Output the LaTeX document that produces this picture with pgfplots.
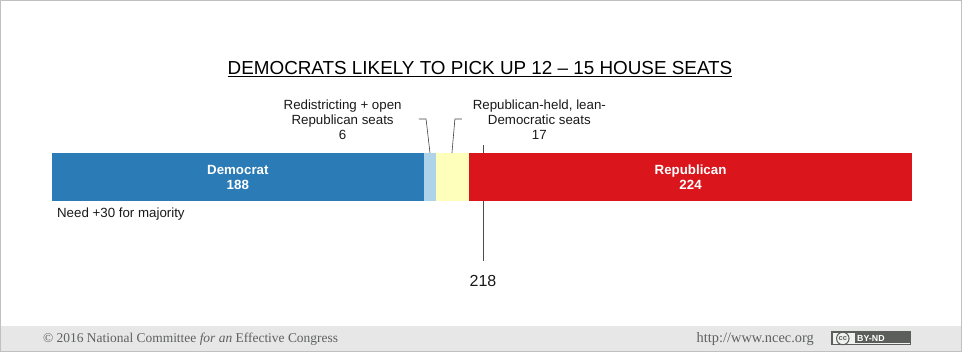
\documentclass[border=0pt]{standalone}
\usepackage{pgfplots}
\usetikzlibrary{calc}
\pgfplotsset{compat=1.18}
\usepackage{fontspec}
\setmainfont{Liberation Sans}
\newfontfamily\foot{Liberation Serif}
\definecolor{dem}{HTML}{2B7BB7}
\definecolor{open}{HTML}{AFD4E9}
\definecolor{lean}{HTML}{FFFFBC}
\definecolor{rep}{HTML}{DA161C}
\definecolor{band}{HTML}{E6E7E6}
\definecolor{frame}{HTML}{BFC1BF}
\definecolor{foottxt}{HTML}{5F6160}
\definecolor{ccg}{HTML}{5C5E5C}
\newcommand{\ft}[1]{\fontsize{#1}{#1}\selectfont}
\begin{document}
\begin{tikzpicture}
\begin{axis}[
  scale only axis, width=962pt, height=352pt,
  xmin=-26.3, xmax=460.3, ymin=0, ymax=352,
  hide axis, clip=false,
  xbar stacked, reverse stacked plots=false, bar width=48pt, bar shift=0pt,
]
\fill[band] (axis cs:-26.3,0) rectangle (axis cs:460.3,26);
\draw[frame,line width=1pt] ($(axis cs:-26.3,0)+(0.5pt,0.5pt)$) rectangle ($(axis cs:460.3,352)+(-0.5pt,-0.5pt)$);
\addplot[fill=dem,draw=none] coordinates {(188,175)};
\addplot[fill=open,draw=none] coordinates {(6,175)};
\addplot[fill=lean,draw=none] coordinates {(17,175)};
\addplot[fill=rep,draw=none] coordinates {(224,175)};
% 218 line
\draw[black!70,line width=0.6pt] (axis cs:218,207) -- (axis cs:218,199);
\draw[black!70,line width=0.6pt] (axis cs:218,151) -- (axis cs:218,91);
% leaders
\draw[black!75,line width=0.6pt] (axis cs:185.6,233) -- (axis cs:189.2,233) -- (axis cs:191.2,199);
\draw[black!75,line width=0.6pt] (axis cs:207.3,233) -- (axis cs:203.8,233) -- (axis cs:202.3,199);
% labels
\node[font=\ft{18.85}] at (axis cs:216.5,283) {\underline{DEMOCRATS LIKELY TO PICK UP 12 – 15 HOUSE SEATS}};
\node[font=\ft{13.3},align=center,text=black!90] at (axis cs:147,232) {Redistricting + open\\[1.7pt]Republican seats\\[1.7pt]6};
\node[font=\ft{13.3},align=center,text=black!90] at (axis cs:246.5,232) {Republican-held, lean-\\[1.7pt]Democratic seats\\[1.7pt]17};
\node[font=\ft{13.3}\bfseries,text=white,align=center] at (axis cs:94,175) {Democrat\\[1.7pt]188};
\node[font=\ft{13.3}\bfseries,text=white,align=center] at (axis cs:323,175) {Republican\\[1.7pt]224};
\node[font=\ft{13.3},text=black!90,anchor=west,inner sep=0pt] at (axis cs:2.5,138) {Need +30 for majority};
\node[font=\ft{16},text=black!90] at (axis cs:218,71) {218};
% footer
\node[font=\foot\ft{13.45},text=foottxt,anchor=west,inner sep=0pt] at (axis cs:-4.6,13) {© 2016 National Committee \textit{for an} Effective Congress};
\node[font=\foot\ft{14.4},text=foottxt,anchor=west,inner sep=0pt] at (axis cs:326,13) {http://www.ncec.org};
\fill[ccg] (axis cs:394,6.5) rectangle (axis cs:434.5,20.5);
\fill[band!60!white] (axis cs:394.8,8) rectangle (axis cs:406,19);
\fill[band!60!white] (axis cs:394.8,8) -- (axis cs:433.8,8) -- (axis cs:433.8,8.8) -- (axis cs:394.8,8.8) -- cycle;
\node[draw=ccg,circle,line width=1pt,inner sep=0pt,minimum size=12.5pt,font=\ft{7.5}\bfseries,text=ccg] at (axis cs:400,13.5) {cc};
\node[font=\ft{8.8}\bfseries,text=white,anchor=west,inner sep=0pt] at (axis cs:407.2,13.5) {BY-ND};
\end{axis}
\end{tikzpicture}
\end{document}
